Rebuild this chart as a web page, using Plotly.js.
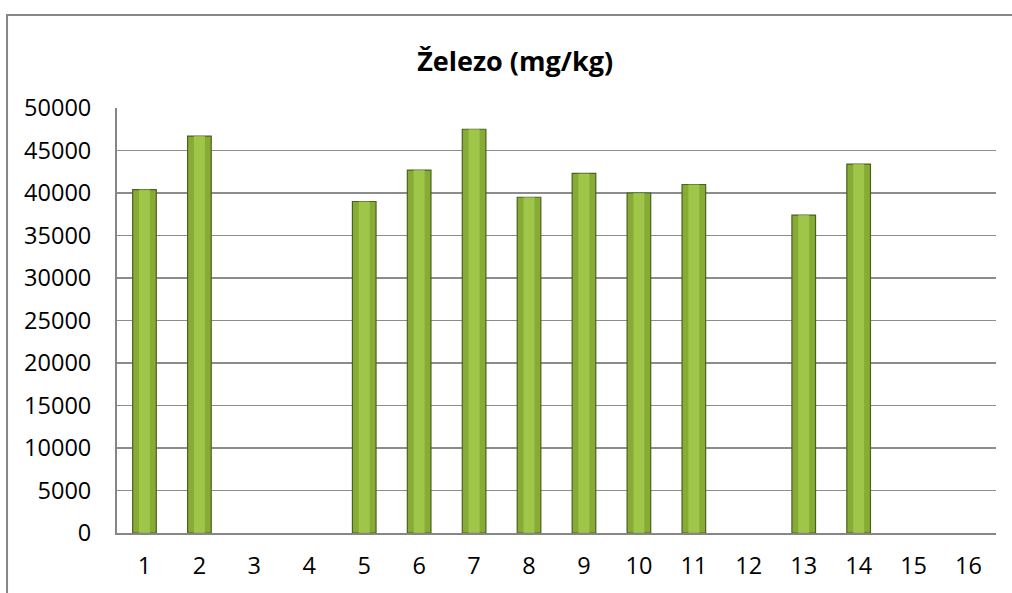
<!DOCTYPE html>
<html>
<head>
<meta charset="utf-8">
<script src="https://cdn.plot.ly/plotly-3.0.1.min.js"></script>
<style>html,body{margin:0;padding:0;background:#fff;}#chart{width:1012px;height:593px;}</style>
</head>
<body>
<div id="chart"></div>
<script>
const categories = ["1","2","3","4","5","6","7","8","9","10","11","12","13","14","15","16"];
const values = [40400, 46700, null, null, 39000, 42700, 47500, 39500, 42300, 40000, 41000, null, 37400, 43400, null, null];
const yTicks = [0,5000,10000,15000,20000,25000,30000,35000,40000,45000,50000];
const chartTitle = "Železo (mg/kg)";

const font = "Open Sans, Liberation Sans, Arial, sans-serif";

const traces = [
  {
    type: "bar", x: categories, y: values, width: 0.43,
    marker: {color: "#86AC35", line: {color: "#4B6120", width: 1.2}},
    hoverinfo: "x+y"
  },
  {
    type: "bar", x: categories, y: values, width: 0.2,
    marker: {color: "rgba(170,208,82,0.7)", line: {width: 0}},
    hoverinfo: "skip"
  }
];

const layout = {
  width: 1012, height: 593,
  margin: {l: 117, r: 16, t: 108, b: 60},
  paper_bgcolor: "#ffffff", plot_bgcolor: "#ffffff",
  barmode: "overlay",
  showlegend: false,
  title: {text: "<b>" + chartTitle + "</b>", font: {family: font, size: 27, color: "#000"},
          x: 0.509, xref: "container", xanchor: "center", y: 0.897, yref: "container", yanchor: "middle"},
  xaxis: {
    type: "category", tickvals: categories, ticktext: categories,
    tickfont: {family: font, size: 23.5, color: "#000"},
    showgrid: false, showline: true, linecolor: "#868686", linewidth: 2,
    ticks: "", ticklabelstandoff: 11, fixedrange: true
  },
  yaxis: {
    range: [0, 50000], tickvals: yTicks, ticktext: yTicks.map(String),
    tickfont: {family: font, size: 23.5, color: "#000"},
    showgrid: true, gridcolor: "#8C8C8C", gridwidth: 1.5,
    showline: true, linecolor: "#868686", linewidth: 2,
    zeroline: false, ticks: "", ticklabelstandoff: 19, fixedrange: true
  },
  shapes: [
    {type: "rect", xref: "paper", yref: "paper",
     x0: -0.1251, x1: 1.03, y0: -0.2, y1: 1.2188,
     line: {color: "#868686", width: 2}, fillcolor: "rgba(0,0,0,0)", layer: "below"}
  ]
};

Plotly.newPlot("chart", traces, layout, {displayModeBar: false, staticPlot: true});
</script>
</body>
</html>
